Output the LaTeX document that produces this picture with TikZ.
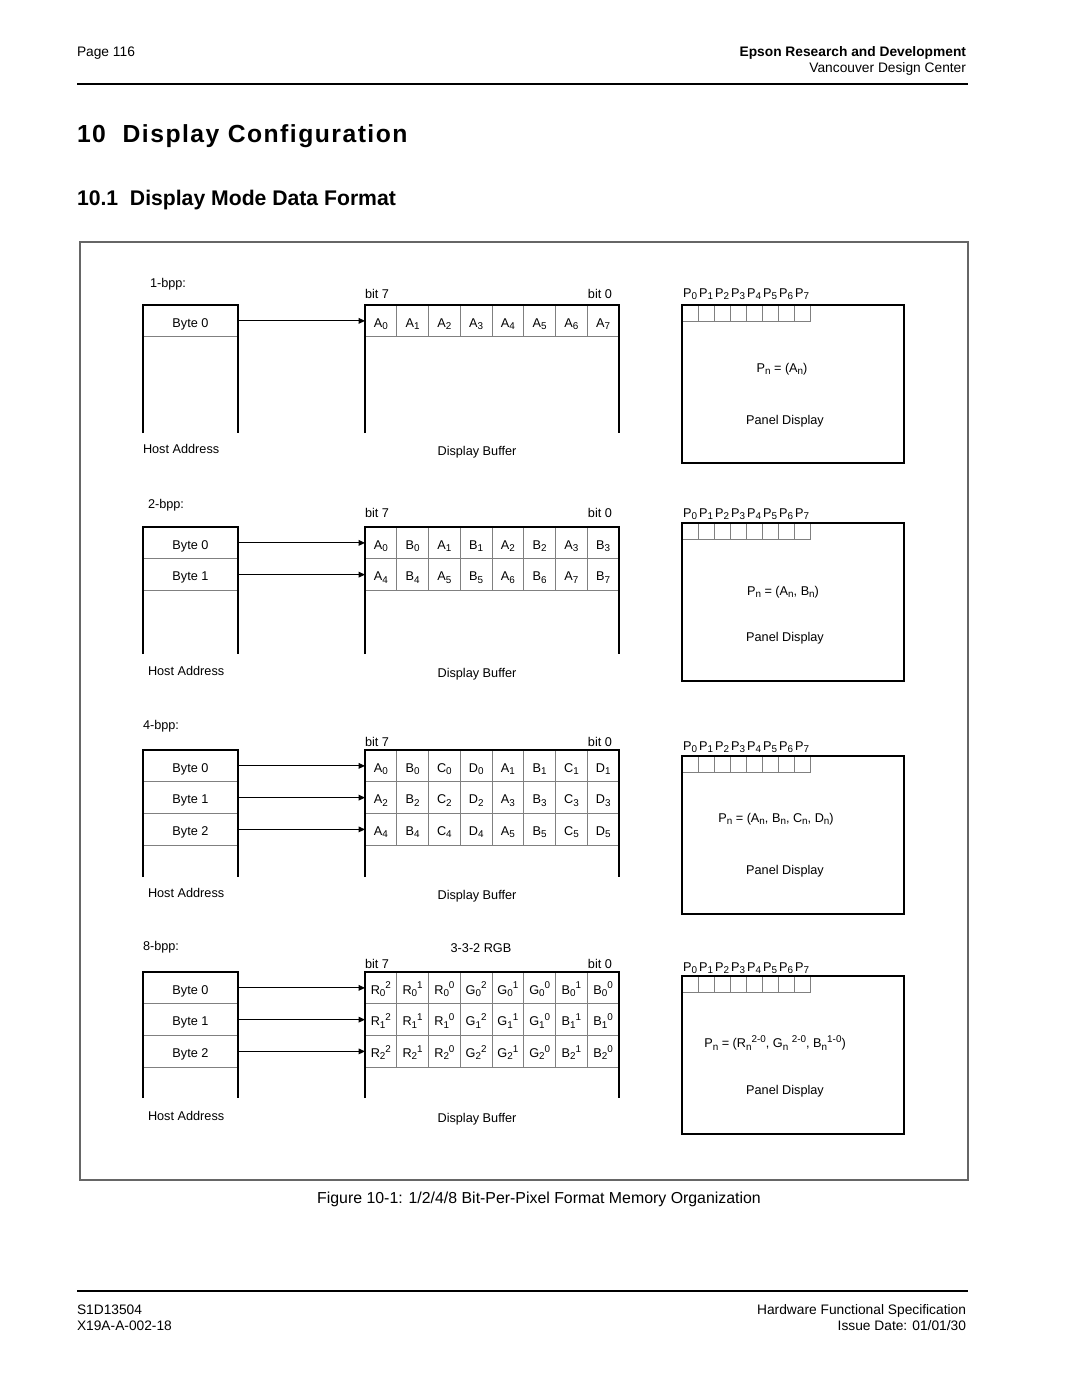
\documentclass[tikz,border=0pt]{standalone}
\usepackage{fontspec}
\setmainfont{Liberation Sans}
\usetikzlibrary{arrows.meta}
\newcommand{\lo}[1]{\raisebox{-1.3pt}{\fontsize{5.6}{6}\selectfont #1}}
\newcommand{\hi}[1]{\raisebox{3.1pt}{\fontsize{5.6}{6}\selectfont #1}}

\begin{document}
\begin{tikzpicture}[x=0.56667pt, y=-0.56667pt,
	every node/.style={font=\fontsize{7.2}{8.6}\selectfont, inner sep=0pt, outer sep=0pt},
	hdr/.style={font=\fontsize{7.8}{9}\selectfont},
	wall/.style={line width=1.1pt},
	grid/.style={draw=black!50, line width=0.5pt, text height=7pt, text depth=0pt},
	cell/.style={grid, minimum width=18pt, minimum height=18pt, anchor=north west},
	row/.style={grid, minimum width=53.83pt, minimum height=18pt, anchor=north west},
	pix/.style={grid, minimum width=9.067pt, minimum height=9.067pt, anchor=north west},
	panel/.style={draw, line width=1.1pt, minimum width=125.8pt, minimum height=89.53pt, anchor=north west},
	feed/.style={-{Triangle[length=3.6pt,width=3.2pt]}, line width=0.5pt}]
	\useasboundingbox (0,0) rectangle (1080,1397);

	% page head
	\node[hdr, anchor=mid west] (pg) at (77,52) {Page 116};
	\node[hdr, anchor=mid east] (co) at (966,52) {\bfseries Epson Research and Development};
	\node[hdr, anchor=mid east] (dc) at (966,68) {Vancouver Design Center};
	\draw[line width=1.2pt] (77,84) -- (968,84);
	\node[anchor=mid west, font=\fontsize{14}{16}\selectfont\bfseries\addfontfeatures{LetterSpace=6}] (ttl) at (77,138) {10\ \ Display Configuration};
	\node[anchor=mid west, font=\fontsize{12}{14}\selectfont\bfseries] (sub) at (77,201) {10.1\ \ Display Mode Data Format};
	\draw[black!60, line width=0.6pt] (80,242) rectangle (968,1180);

	% 1-bpp
	\node[anchor=mid west] (m1) at (150,283) {1-bpp:};
	\node[row] (h1-0) at (143,305) {Byte 0};
	\foreach \k in {0,...,7}
		\node[cell] (b1-0-\k) at (365+31.76*\k,305) {A\lo{\k}};
	\draw[wall] (143,433) |- (238,305) -- (238,433);
	\draw[wall] (365,433) |- (619.1,305) -- (619.1,433);
	\draw[feed] (h1-0.east) -- (b1-0-0.west);
	\node[anchor=mid west] (t1) at (365,294) {bit 7};
	\node[anchor=mid east] (u1) at (612,294) {bit 0};
	\node[anchor=mid west] (ha1) at (143,449) {Host Address};
	\node (db1) at (477,452) {Display Buffer};
	\foreach \k in {0,...,7} {
		\node[pix] (p1-\k) at (682+16*\k,305) {};
		\node (q1-\k) at (690+16*\k,294) {P\lo{\k}};
	}
	\node[panel] (d1) at (682,305) {};
	\node (f1) at (782,369) {P\lo{n} = (A\lo{n})};
	\node (pd1) at (785,421) {Panel Display};

	% 2-bpp
	\node[anchor=mid west] (m2) at (148,504) {2-bpp:};
	\foreach \t [count=\k from 0] in {A\lo{0},B\lo{0},A\lo{1},B\lo{1},A\lo{2},B\lo{2},A\lo{3},B\lo{3}}
		\node[cell] (b2-0-\k) at (365+31.76*\k,527) {\t};
	\foreach \t [count=\k from 0] in {A\lo{4},B\lo{4},A\lo{5},B\lo{5},A\lo{6},B\lo{6},A\lo{7},B\lo{7}}
		\node[cell] (b2-1-\k) at (365+31.76*\k,558.76) {\t};
	\foreach \r in {0,1} {
		\node[row] (h2-\r) at (143,527+31.76*\r) {Byte \r};
		\draw[feed] (h2-\r.east) -- (b2-\r-0.west);
	}
	\draw[wall] (143,654) |- (238,527) -- (238,654);
	\draw[wall] (365,654) |- (619.1,527) -- (619.1,654);
	\node[anchor=mid west] (t2) at (365,513) {bit 7};
	\node[anchor=mid east] (u2) at (612,513) {bit 0};
	\node[anchor=mid west] (ha2) at (148,671) {Host Address};
	\node (db2) at (477,674) {Display Buffer};
	\foreach \k in {0,...,7} {
		\node[pix] (p2-\k) at (682+16*\k,523) {};
		\node (q2-\k) at (690+16*\k,514) {P\lo{\k}};
	}
	\node[panel] (d2) at (682,523) {};
	\node (f2) at (783,592) {P\lo{n} = (A\lo{n}, B\lo{n})};
	\node (pd2) at (785,638) {Panel Display};

	% 4-bpp
	\node[anchor=mid west] (m3) at (143,725) {4-bpp:};
	\foreach \r in {0,1,2} {
		\pgfmathtruncatemacro\ev{2*\r}
		\pgfmathtruncatemacro\od{2*\r+1}
		\foreach \t [count=\k from 0] in {A\lo{\ev},B\lo{\ev},C\lo{\ev},D\lo{\ev},A\lo{\od},B\lo{\od},C\lo{\od},D\lo{\od}}
			\node[cell] (b3-\r-\k) at (365+31.76*\k,750+31.76*\r) {\t};
		\node[row] (h3-\r) at (143,750+31.76*\r) {Byte \r};
		\draw[feed] (h3-\r.east) -- (b3-\r-0.west);
	}
	\draw[wall] (143,877) |- (238,750) -- (238,877);
	\draw[wall] (365,877) |- (619.1,750) -- (619.1,877);
	\node[anchor=mid west] (t3) at (365,742) {bit 7};
	\node[anchor=mid east] (u3) at (612,742) {bit 0};
	\node[anchor=mid west] (ha3) at (148,893) {Host Address};
	\node (db3) at (477,896) {Display Buffer};
	\foreach \k in {0,...,7} {
		\node[pix] (p3-\k) at (682+16*\k,756) {};
		\node (q3-\k) at (690+16*\k,747) {P\lo{\k}};
	}
	\node[panel] (d3) at (682,756) {};
	\node (f3) at (776,819) {P\lo{n} = (A\lo{n}, B\lo{n}, C\lo{n}, D\lo{n})};
	\node (pd3) at (785,871) {Panel Display};

	% 8-bpp
	\node[anchor=mid west] (m4) at (143,946) {8-bpp:};
	\node (rgb) at (481,948) {3-3-2 RGB};
	\foreach \r in {0,1,2} {
		\foreach \t [count=\k from 0] in {R\lo{\r}\hi{2},R\lo{\r}\hi{1},R\lo{\r}\hi{0},G\lo{\r}\hi{2},G\lo{\r}\hi{1},G\lo{\r}\hi{0},B\lo{\r}\hi{1},B\lo{\r}\hi{0}}
			\node[cell] (b4-\r-\k) at (365+31.76*\k,972+31.76*\r) {\t};
		\node[row] (h4-\r) at (143,972+31.76*\r) {Byte \r};
		\draw[feed] (h4-\r.east) -- (b4-\r-0.west);
	}
	\draw[wall] (143,1098) |- (238,972) -- (238,1098);
	\draw[wall] (365,1098) |- (619.1,972) -- (619.1,1098);
	\node[anchor=mid west] (t4) at (365,964) {bit 7};
	\node[anchor=mid east] (u4) at (612,964) {bit 0};
	\node[anchor=mid west] (ha4) at (148,1116) {Host Address};
	\node (db4) at (477,1119) {Display Buffer};
	\foreach \k in {0,...,7} {
		\node[pix] (p4-\k) at (682+16*\k,976) {};
		\node (q4-\k) at (690+16*\k,968) {P\lo{\k}};
	}
	\node[panel] (d4) at (682,976) {};
	\node (f4) at (775,1043) {P\lo{n} = (R\lo{n}\hi{2-0}, G\lo{n} \hi{2-0}, B\lo{n}\hi{1-0})};
	\node (pd4) at (785,1091) {Panel Display};

	% caption and page foot
	\node[font=\fontsize{9}{11}\selectfont] (cap) at (539,1199) {Figure 10-1: 1/2/4/8 Bit-Per-Pixel Format Memory Organization};
	\draw[line width=1.2pt] (77,1291) -- (968,1291);
	\node[hdr, anchor=mid west] (pn) at (77,1310) {S1D13504};
	\node[hdr, anchor=mid west] (dn) at (77,1326) {X19A-A-002-18};
	\node[hdr, anchor=mid east] (sp) at (966,1310) {Hardware Functional Specification};
	\node[hdr, anchor=mid east] (is) at (966,1326) {Issue Date: 01/01/30};
\end{tikzpicture}
\end{document}
